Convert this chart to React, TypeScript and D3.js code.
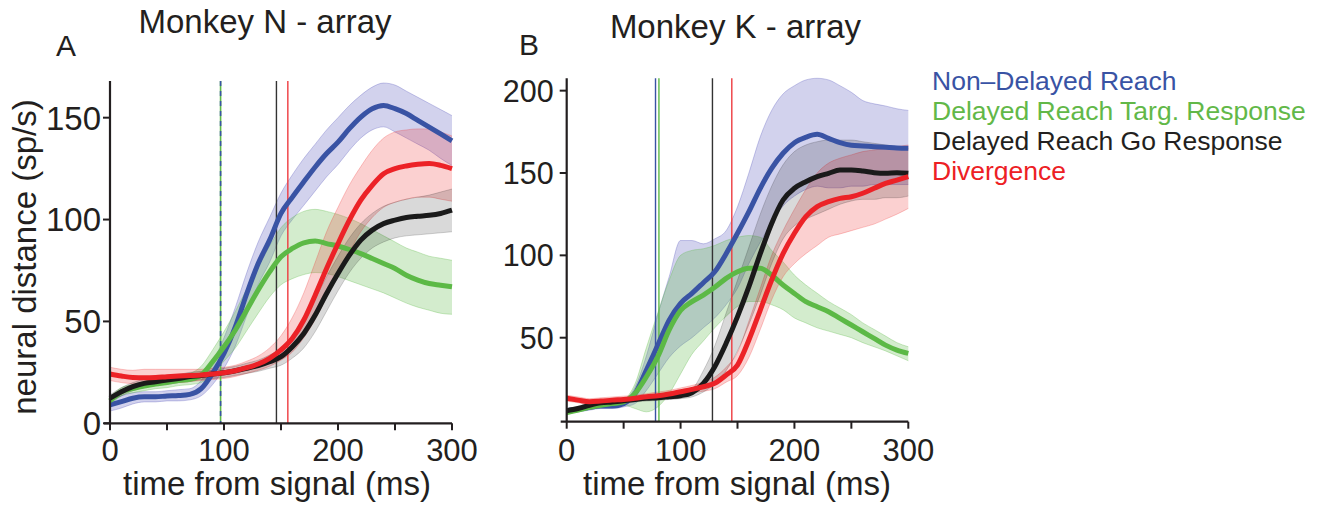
import React from "react";
import * as d3 from "d3";

// ---------- data ----------
const TIMES = [0, 10, 20, 30, 40, 50, 60, 70, 80, 90, 100, 110, 120, 130, 140, 150, 160, 170, 180, 190, 200, 210, 220, 230, 240, 250, 260, 270, 280, 290, 300];

// Panel A (Monkey N)
const A_BLUE = [9, 10.6, 12.3, 13, 13, 13.4, 13.6, 14.2, 17, 24.5, 34.3, 47.4, 63.7, 78.4, 89.9, 103, 111, 118.5, 125.8, 132.4, 138, 144.6, 150.3, 154.4, 156, 154.4, 152, 148.7, 145.4, 142, 138.6];
const A_BLUE_HI = [12, 13.5, 15, 15.5, 15.5, 16, 16.5, 17, 21, 30, 42, 57, 74, 89, 101, 113, 122, 130, 137, 144, 150, 156, 161, 165, 167, 166, 163, 160, 157, 154, 151];
const A_BLUE_LO = [6, 7.5, 9.5, 10.5, 10.5, 11, 11, 11.5, 13.5, 19, 27, 38, 53, 68, 79, 92, 100, 107, 114, 121, 127, 134, 140, 144, 145.5, 143, 140, 137, 134, 130, 126.5];

const A_GREEN = [11, 15.5, 17, 18.3, 19.3, 20, 21, 21.6, 23.7, 30.2, 37.6, 45.8, 55.6, 65.4, 74.3, 81.7, 85.8, 88.6, 89.5, 88.2, 87, 85.3, 83.3, 80.9, 78.4, 76, 72.7, 70.3, 68.6, 67.8, 67];
const A_GREEN_HI = [13, 17.5, 19, 20.5, 21.5, 22.5, 23.5, 24.5, 28, 36, 45, 55, 66, 77, 87, 96, 101, 104, 105, 104, 102.5, 100.5, 98, 95, 92, 89, 86, 84, 82, 81, 80];
const A_GREEN_LO = [9, 13.5, 15, 16, 17, 17.5, 18.5, 19, 20, 24.5, 30.5, 37, 45.5, 54, 62, 68, 71, 73, 74, 73.5, 72, 70, 68, 66, 64, 61.5, 59, 57, 55.5, 54, 53.5];

const A_RED = [24.2, 23.2, 22.5, 22.4, 22.5, 22.9, 23.2, 23.4, 23.7, 24.2, 24.8, 25.8, 27.3, 29.1, 31.9, 36, 41.7, 50.7, 62.9, 76, 88.2, 99.7, 109.5, 116.8, 122.5, 125, 126.3, 127.1, 127.5, 126.6, 125];
const A_RED_HI = [27.5, 26.5, 26, 26.5, 26.5, 26.5, 26.5, 26.5, 26.5, 27, 27.5, 28.5, 30.5, 33, 37, 43, 52, 64, 79, 94, 106, 117, 126, 134, 140, 143, 144, 144.5, 144.5, 143, 141];
const A_RED_LO = [21, 20, 19.5, 19.5, 19.5, 20, 20, 20.5, 21, 21.5, 22, 23, 24.5, 26, 28, 31, 35, 42, 51, 62, 73, 84, 94, 101, 106, 108.5, 110, 111, 111, 110, 109];

const A_BLACK = [12.3, 15.5, 18, 19.6, 20.4, 21.2, 22, 22.9, 23.4, 24.2, 24.8, 25.8, 27, 28.3, 30.2, 32.7, 37.6, 44.1, 53.1, 63.7, 73.5, 82.5, 89.9, 94.8, 98, 99.7, 101, 101.6, 102.1, 103, 104.6];
const A_BLACK_HI = [14, 17.5, 20, 21.5, 22.5, 23.5, 24, 25, 25.5, 26, 27, 28, 29.5, 31, 33.5, 37, 43, 51, 61, 72, 82, 91, 98, 103, 106.5, 108.5, 110, 111, 112, 113.5, 115];
const A_BLACK_LO = [10.5, 13.5, 16, 17.5, 18.5, 19, 20, 20.5, 21.5, 22, 22.5, 23.5, 24.5, 25.5, 27, 28.5, 32, 37, 45, 55, 65, 74, 81, 86, 89, 91, 92, 92.5, 93, 93.5, 94];

// Panel B (Monkey K)
const B_BLUE = [5.7, 6.5, 7.7, 8.5, 8.5, 10, 16, 30.4, 45.5, 60.7, 70.9, 76.9, 83.4, 90, 101, 113.4, 126.5, 140.7, 152.8, 162, 168.4, 171.7, 173.5, 171, 168.4, 166.8, 166.4, 166, 165.6, 165.2, 165];
const B_BLUE_HI = [7, 8, 9.5, 10, 10.5, 12, 20, 39, 64, 87, 109, 109, 107, 110, 115, 129.5, 150, 172, 188, 198, 203, 206.5, 207.5, 206.5, 203, 199, 194, 192, 190.7, 189, 188];
const B_BLUE_LO = [4.5, 5, 6, 7, 7, 8, 10, 18, 28, 38, 45, 50, 56, 62, 70, 80, 95, 108, 120, 130, 136, 140, 142, 141, 141, 142, 142, 143, 143, 143, 143];

const B_GREEN = [4.5, 6, 7.7, 9, 10, 11.1, 16.2, 26.3, 38.5, 54.7, 66.5, 71.9, 75.9, 80.6, 86, 90, 92.1, 92.1, 88, 82, 76.9, 71.9, 68.8, 65.8, 61.7, 57.7, 53.6, 49.6, 45.5, 42.5, 40.5];
const B_GREEN_HI = [5.5, 7, 9, 10, 11, 12.5, 22, 44, 65, 85, 100, 103, 104, 106, 109, 111, 112, 111, 103, 96, 88, 82, 77, 72, 68, 64, 59, 55, 51, 47, 44.5];
const B_GREEN_LO = [3.5, 5, 6.5, 8, 9, 9, 7, 5, 8, 16, 28, 40, 48, 56, 63, 69, 72, 72, 70, 67, 62, 59, 56, 54, 52, 50, 47, 44.5, 42, 39, 36];

const B_RED = [13.2, 12.1, 11.1, 11.5, 12.1, 12.5, 13.2, 14.2, 14.8, 15.8, 17.2, 18.6, 20.2, 22.3, 27.3, 33.4, 48.6, 66.8, 85, 101, 113.4, 123.5, 129.6, 132.6, 134.6, 135.6, 137.7, 140.7, 143.7, 145.7, 147.8];
const B_RED_HI = [15, 14, 13, 13.5, 14, 14.5, 15, 16, 17, 18, 19.5, 21, 23, 26, 32, 41, 60, 80, 100, 115, 128, 140, 150, 156, 159, 161, 163, 164, 165, 166, 167];
const B_RED_LO = [11.5, 10.5, 9.5, 10, 10.5, 11, 11.5, 12.5, 13, 14, 15, 16.5, 17.5, 19, 23, 27, 38, 55, 73, 87, 95, 101, 106, 111, 113, 115, 117, 119, 122, 125, 128.5];

const B_BLACK = [5.7, 7, 9, 10.5, 11, 11.7, 12.5, 13.2, 13.6, 14.2, 14.8, 16.6, 22.3, 32.4, 46.6, 62.8, 81, 101, 119.4, 133.6, 140.7, 144.7, 147.8, 149.8, 151.8, 151.8, 151.2, 150.2, 149.8, 150.2, 149.8];
const B_BLACK_HI = [7, 8.5, 10.5, 12, 12.5, 13.5, 14, 15, 15.5, 16, 17, 19, 30, 45, 65, 85, 105, 125, 142, 155, 163, 167, 169, 170, 170, 170, 169, 168, 167, 166, 165];
const B_BLACK_LO = [4.5, 5.5, 7.5, 9, 9.5, 10, 11, 11.5, 12, 12.5, 13, 14, 17, 22, 30, 42, 58, 76, 95, 110, 118, 122, 125, 128, 131, 133, 134, 134, 135, 135, 136];

// vertical marker times (ms)
const A_MARKERS = { blue: 97, green: 97, black: 146, red: 156 };
const B_MARKERS = { blue: 78, green: 81, black: 128, red: 145 };

const X_TICKS = [0, 50, 100, 150, 200, 250, 300];
const X_LABELS = [0, 100, 200, 300];
const A_Y_TICKS = [0, 50, 100, 150];
const B_Y_TICKS = [50, 100, 150, 200];

const LEGEND = ["Non\u2013Delayed Reach", "Delayed Reach Targ. Response", "Delayed Reach Go Response", "Divergence"];

// ---------- styles ----------
const FONT = "'Liberation Sans', Arial, Helvetica, sans-serif";
const COL = { blue: "#3953a4", green: "#5cb946", black: "#1a1a1a", red: "#ec2227" };
const BAND = { blue: "#4a4ab6", green: "#5cb946", black: "#000000", red: "#ee2a2a" };
const BAND_OP = { blue: 0.25, green: 0.27, black: 0.15, red: 0.22 };
const VCOL = { blue: "#3953a4", green: "#5cb946", black: "#333333", red: "#ee3b3f" };
const LEG_COL = ["#3953a4", "#62b848", "#231f20", "#ed2024"];

type Key = "blue" | "green" | "black" | "red";

interface Series { key: Key; mean: number[]; hi: number[]; lo: number[] }

const A_SERIES: Series[] = [
  { key: "blue", mean: A_BLUE, hi: A_BLUE_HI, lo: A_BLUE_LO },
  { key: "green", mean: A_GREEN, hi: A_GREEN_HI, lo: A_GREEN_LO },
  { key: "red", mean: A_RED, hi: A_RED_HI, lo: A_RED_LO },
  { key: "black", mean: A_BLACK, hi: A_BLACK_HI, lo: A_BLACK_LO },
];
const B_SERIES: Series[] = [
  { key: "blue", mean: B_BLUE, hi: B_BLUE_HI, lo: B_BLUE_LO },
  { key: "green", mean: B_GREEN, hi: B_GREEN_HI, lo: B_GREEN_LO },
  { key: "red", mean: B_RED, hi: B_RED_HI, lo: B_RED_LO },
  { key: "black", mean: B_BLACK, hi: B_BLACK_HI, lo: B_BLACK_LO },
];

interface PanelProps {
  x0: number; x1: number; yBottom: number; yTop: number; yDomain: [number, number];
  yTicks: number[]; yTickFont: number; yTickGap: number; series: Series[]; markers: Record<Key, number>;
  title: string; titleX: number; titleY: number; letter: string; letterX: number; letterY: number;
  dashedPair: boolean; showYLabel: boolean; xLabelX: number;
}

function Panel(p: PanelProps) {
  const x = d3.scaleLinear().domain([0, 300]).range([p.x0, p.x1]);
  const y = d3.scaleLinear().domain(p.yDomain).range([p.yBottom, p.yTop]);
  const line = d3.line<number>().x((_, i) => x(TIMES[i])).y((d) => y(d)).curve(d3.curveMonotoneX);
  const area = (s: Series) =>
    d3.area<number>().x((_, i) => x(TIMES[i])).y0((_, i) => y(s.lo[i])).y1((_, i) => y(s.hi[i])).curve(d3.curveMonotoneX)(s.mean) || "";
  const edge = (arr: number[]) => line(arr) || "";
  const order: Key[] = ["blue", "green", "black", "red"];
  return (
    <g>
      <text x={p.titleX} y={p.titleY} fontSize={33} textAnchor="middle" fill="#231f20">{p.title}</text>
      <text x={p.letterX} y={p.letterY} fontSize={30} fill="#231f20">{p.letter}</text>
      {/* bands */}
      {p.series.map((s) => (
        <g key={"b" + s.key}>
          <path d={area(s)} fill={BAND[s.key]} fillOpacity={BAND_OP[s.key]} />
          <path d={edge(s.hi)} fill="none" stroke={BAND[s.key]} strokeOpacity={BAND_OP[s.key] * 1.3} strokeWidth={0.9} />
          <path d={edge(s.lo)} fill="none" stroke={BAND[s.key]} strokeOpacity={BAND_OP[s.key] * 1.3} strokeWidth={0.9} />
        </g>
      ))}
      {/* vertical markers */}
      {p.dashedPair ? (
        <g>
          <line x1={x(p.markers.green)} x2={x(p.markers.green)} y1={p.yTop} y2={p.yBottom} stroke={VCOL.green} strokeWidth={1.6} />
          <line x1={x(p.markers.blue)} x2={x(p.markers.blue)} y1={p.yTop} y2={p.yBottom} stroke={VCOL.blue} strokeWidth={1.6} strokeDasharray="5,5" />
        </g>
      ) : (
        <g>
          <line x1={x(p.markers.blue)} x2={x(p.markers.blue)} y1={p.yTop} y2={p.yBottom} stroke={VCOL.blue} strokeWidth={1.4} />
          <line x1={x(p.markers.green)} x2={x(p.markers.green)} y1={p.yTop} y2={p.yBottom} stroke={VCOL.green} strokeWidth={1.4} />
        </g>
      )}
      <line x1={x(p.markers.black)} x2={x(p.markers.black)} y1={p.yTop} y2={p.yBottom} stroke={VCOL.black} strokeWidth={1.4} />
      <line x1={x(p.markers.red)} x2={x(p.markers.red)} y1={p.yTop} y2={p.yBottom} stroke={VCOL.red} strokeWidth={1.4} />
      {/* mean lines */}
      {order.map((k) => {
        const s = p.series.find((q) => q.key === k)!;
        return <path key={"l" + k} d={edge(s.mean)} fill="none" stroke={COL[k]} strokeWidth={5} strokeLinejoin="round" strokeLinecap="butt" />;
      })}
      {/* axes */}
      <line x1={p.x0} x2={p.x0} y1={p.yTop} y2={p.yBottom} stroke="#231f20" strokeWidth={2.2} />
      <line x1={p.x0 - 6} x2={p.x1} y1={p.yBottom} y2={p.yBottom} stroke="#231f20" strokeWidth={2.2} />
      {X_TICKS.map((t) => (
        <line key={"xt" + t} x1={x(t)} x2={x(t)} y1={p.yBottom} y2={p.yBottom + 7} stroke="#231f20" strokeWidth={2} />
      ))}
      {X_LABELS.map((t) => (
        <text key={"xl" + t} x={x(t)} y={461} fontSize={31} textAnchor="middle" fill="#231f20">{t}</text>
      ))}
      {p.yTicks.map((t) => (
        <g key={"yt" + t}>
          <line x1={p.x0 - 7} x2={p.x0} y1={y(t)} y2={y(t)} stroke="#231f20" strokeWidth={2} />
          <text x={p.x0 - p.yTickGap} y={y(t)} dy="0.36em" fontSize={p.yTickFont} textAnchor="end" fill="#231f20">{t}</text>
        </g>
      ))}
      <text x={p.xLabelX} y={495} fontSize={33} textAnchor="middle" fill="#231f20">time from signal (ms)</text>
      {p.showYLabel && (
        <text transform={`translate(36, 257) rotate(-90)`} fontSize={33} textAnchor="middle" fill="#231f20">neural distance (sp/s)</text>
      )}
    </g>
  );
}

export default function App() {
  return (
    <svg width={1337} height={508} style={{ position: "absolute", left: 0, top: 0, background: "#fff" }} fontFamily={FONT}>
      <rect width={1337} height={508} fill="#ffffff" />
      <Panel x0={110} x1={452} yBottom={423.3} yTop={81} yDomain={[0, 168]} yTicks={A_Y_TICKS} yTickFont={33} yTickGap={9}
        series={A_SERIES} markers={A_MARKERS} title="Monkey N - array" titleX={265} titleY={33} letter="A" letterX={56} letterY={56}
        dashedPair={true} showYLabel={true} xLabelX={277} />
      <Panel x0={566.7} x1={908.3} yBottom={421.7} yTop={78.3} yDomain={[-1, 207.5]} yTicks={B_Y_TICKS} yTickFont={30.5} yTickGap={13}
        series={B_SERIES} markers={B_MARKERS} title="Monkey K - array" titleX={735.5} titleY={38} letter="B" letterX={519} letterY={55}
        dashedPair={false} showYLabel={false} xLabelX={737} />
      {LEGEND.map((t, i) => (
        <text key={t} x={932} y={89.5 + i * 30} fontSize={26.5} fill={LEG_COL[i]}>{t}</text>
      ))}
    </svg>
  );
}
